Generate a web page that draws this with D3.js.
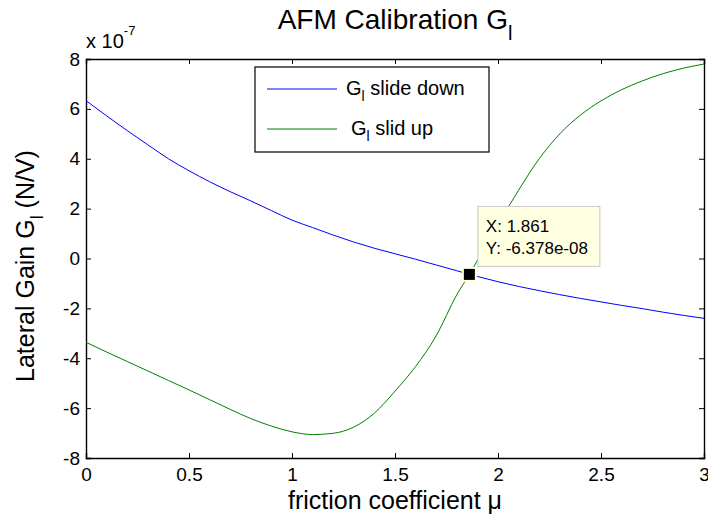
<!DOCTYPE html>
<html>
<head>
<meta charset="utf-8">
<script src="https://cdn.jsdelivr.net/npm/d3@7"></script>
<style>
    body { margin: 0; background: #fff; }
    text { font-family: "Liberation Sans", Arial, sans-serif; fill: #000; }
</style>
</head>
<body>
<div class="chart-container"></div>
<script>
// friction coefficient samples (x) and gains in units of 1e-7 N/V
const mu = [0, 0.1, 0.2, 0.3, 0.4, 0.5, 0.6, 0.7, 0.8, 0.9, 1.0, 1.1, 1.2, 1.3, 1.4, 1.5,
            1.6, 1.7, 1.8, 1.861, 1.9, 2.0, 2.1, 2.2, 2.3, 2.4, 2.5, 2.6, 2.7, 2.8, 2.9, 3.0];
const slideDown = [6.33, 5.72, 5.13, 4.56, 4.0, 3.52, 3.08, 2.68, 2.31, 1.92, 1.54, 1.24, 0.94, 0.66, 0.41, 0.19,
                   -0.03, -0.26, -0.49, -0.638, -0.72, -0.93, -1.12, -1.29, -1.45, -1.6, -1.74, -1.88, -2.01, -2.15, -2.28, -2.40];
const slidUp = [-3.36, -3.75, -4.13, -4.51, -4.89, -5.27, -5.66, -6.05, -6.42, -6.72, -6.95, -7.06, -7.01, -6.76, -6.2, -5.32,
                -4.33, -3.1, -1.45, -0.638, -0.08, 1.36, 2.74, 4.0, 5.0, 5.75, 6.32, 6.77, 7.12, 7.41, 7.63, 7.8];
const xTicks = [0, 0.5, 1, 1.5, 2, 2.5, 3];
const yTicks = [-8, -6, -4, -2, 0, 2, 4, 6, 8];
const seriesNames = ["slide down", "slid up"];
const seriesColors = ["#0000ff", "#008000"];
const tipPoint = { x: 1.861, y: -0.6378 };   // data cursor, y in 1e-7

const width = 708;
const height = 522;
const margin = { top: 59, right: 4, bottom: 64, left: 86 };

const svg = d3.select(".chart-container").append("svg")
    .attr("width", width)
    .attr("height", height);

const xScale = d3.scaleLinear().domain([0, 3]).range([margin.left, width - margin.right]);
const yScale = d3.scaleLinear().domain([-8, 8]).range([height - margin.bottom, margin.top]);

// axes: MATLAB style, ticks inside on all four sides
const tickLen = 5;
const plain = d => String(d);   // plain hyphen minus like matlab
const xAxis = d3.axisBottom(xScale).tickValues(xTicks).tickSize(-tickLen).tickPadding(10).tickFormat(plain);
const yAxis = d3.axisLeft(yScale).tickValues(yTicks).tickSize(-tickLen).tickPadding(6).tickFormat(plain);
const xAxisTop = d3.axisTop(xScale).tickValues(xTicks).tickSize(-tickLen).tickFormat("");
const yAxisRight = d3.axisRight(yScale).tickValues(yTicks).tickSize(-tickLen).tickFormat("");

const styleAxis = g => {
    g.select(".domain").attr("stroke", "#000").attr("stroke-width", 1.4);
    g.selectAll(".tick line").attr("stroke", "#000");
    g.selectAll(".tick text").style("font-size", "19px").style("font-family", "'Liberation Sans', Arial, sans-serif").attr("fill", "#000");
};

svg.append("g").attr("transform", "translate(0," + yScale(-8) + ")").call(xAxis).call(styleAxis);
svg.append("g").attr("transform", "translate(" + xScale(0) + ",0)").call(yAxis).call(styleAxis);
svg.append("g").attr("transform", "translate(0," + yScale(8) + ")").call(xAxisTop).call(styleAxis);
svg.append("g").attr("transform", "translate(" + xScale(3) + ",0)").call(yAxisRight).call(styleAxis);

// exponent label above y axis
const expo = svg.append("text")
    .attr("x", xScale(0))
    .attr("y", 48)
    .style("font-size", "20px")
    .text("x 10");
expo.append("tspan").attr("dy", -13).style("font-size", "13px").text("-7");

// lines
const line = d3.line()
    .x((d, i) => xScale(mu[i]))
    .y(d => yScale(d))
    .curve(d3.curveMonotoneX);

[slideDown, slidUp].forEach((series, k) => {
    svg.append("path")
        .datum(series)
        .attr("fill", "none")
        .attr("stroke", seriesColors[k])
        .attr("stroke-width", 1)
        .attr("d", line);
});

// title
const title = svg.append("text")
    .attr("x", xScale(1.5))
    .attr("y", 29)
    .attr("text-anchor", "middle")
    .style("font-size", "28px")
    .text("AFM Calibration G");
title.append("tspan").attr("dy", 11).style("font-size", "20px").text("l");

// x label
svg.append("text")
    .attr("x", xScale(1.5))
    .attr("y", 509)
    .attr("text-anchor", "middle")
    .style("font-size", "25px")
    .text("friction coefficient \u03bc");

// y label
const ylab = svg.append("text")
    .attr("transform", "translate(34,266)rotate(-90)")
    .attr("text-anchor", "middle")
    .style("font-size", "25px")
    .text("Lateral Gain G");
ylab.append("tspan").attr("dy", 9).style("font-size", "18px").text("l");
ylab.append("tspan").attr("dy", -9).text(" (N/V)");

// legend
const legend = svg.append("g").attr("transform", "translate(255,67)");
legend.append("rect")
    .attr("width", 234)
    .attr("height", 85)
    .attr("fill", "#fff")
    .attr("stroke", "#000")
    .attr("stroke-width", 1.2);
seriesNames.forEach((name, k) => {
    const ly = 22 + k * 40;
    legend.append("line")
        .attr("x1", 12).attr("x2", 82)
        .attr("y1", ly).attr("y2", ly)
        .attr("stroke", seriesColors[k])
        .attr("stroke-width", 1);
    const t = legend.append("text")
        .attr("x", k === 0 ? 91 : 96)
        .attr("y", ly + 6)
        .style("font-size", "20px")
        .text("G");
    t.append("tspan").attr("dy", 6).style("font-size", "14px").text("l");
    t.append("tspan").attr("dy", -6).text(" " + name);
});

// data cursor
const px = xScale(tipPoint.x);
const py = yScale(tipPoint.y);
svg.append("rect")
    .attr("x", px - 7.5).attr("y", py - 7.5)
    .attr("width", 15).attr("height", 15)
    .attr("fill", "#ffffe1");
svg.append("rect")
    .attr("x", px - 5.5).attr("y", py - 5.5)
    .attr("width", 11).attr("height", 11)
    .attr("fill", "#000");

const tipY = (tipPoint.y * 1e-7).toExponential(3).replace(/e([+-])(\d)$/, "e$10$2");
const tip = svg.append("g").attr("transform", "translate(" + (px + 8.5) + "," + (py - 68) + ")");
tip.append("rect")
    .attr("width", 122)
    .attr("height", 60)
    .attr("fill", "#ffffe1")
    .attr("stroke", "#c8c8c8")
    .attr("stroke-width", 1);
tip.append("text").attr("x", 8).attr("y", 26).style("font-size", "17px")
    .text("X: " + tipPoint.x);
tip.append("text").attr("x", 8).attr("y", 48).style("font-size", "17px")
    .text("Y: " + tipY);
</script>
</body>
</html>
